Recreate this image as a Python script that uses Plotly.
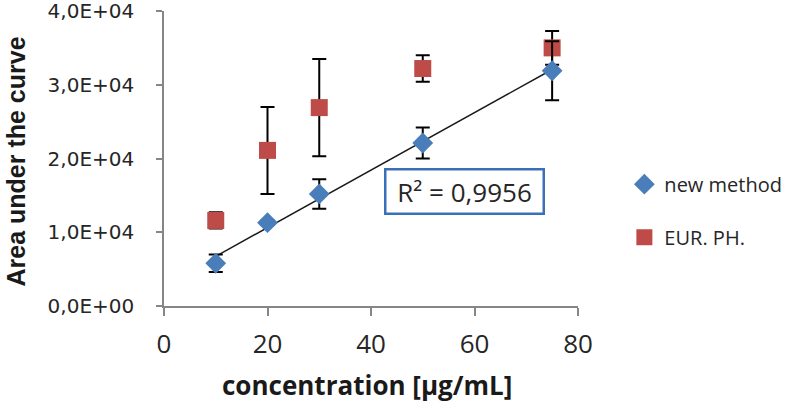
import numpy as np
import plotly.graph_objects as go

# ---- data ----
conc = [10, 20, 30, 50, 75]
new_method = [5800, 11300, 15200, 22100, 31900]
new_method_err = [1200, 300, 2000, 2100, 4000]
eur_ph = [11600, 21100, 26900, 32200, 35000]
eur_ph_err = [1100, 5900, 6600, 1800, 2300]
y_tickvals = [0, 10000, 20000, 30000, 40000]
y_ticktext = ["0,0E+00", "1,0E+04", "2,0E+04", "3,0E+04", "4,0E+04"]
x_tickvals = [0, 20, 40, 60, 80]
r2_label = "R² = 0,9956"
x_title = "concentration [µg/mL]"
y_title = "Area under the curve"

BLUE = "#4a7ebb"
RED = "#be4b48"
AXIS = "#868686"

# linear trendline of the new method
slope, intercept = np.polyfit(conc, new_method, 1)
trend_x = [min(conc), max(conc)]
trend_y = [slope * v + intercept for v in trend_x]

fig = go.Figure()

fig.add_trace(go.Scatter(
    x=trend_x, y=trend_y, mode="lines",
    line=dict(color="#1a1a1a", width=1.5),
    showlegend=False, hoverinfo="skip",
))

fig.add_trace(go.Scatter(
    x=conc, y=eur_ph, mode="markers", name="EUR. PH.",
    legendgroup="b", legendrank=2,
    marker=dict(symbol="square", size=17, color=RED),
    error_y=dict(type="data", array=eur_ph_err, color="black",
                 thickness=2, width=7),
))

fig.add_trace(go.Scatter(
    x=conc, y=new_method, mode="markers", name="new method",
    legendgroup="a", legendrank=1,
    marker=dict(symbol="diamond", size=16, color=BLUE),
    error_y=dict(type="data", array=new_method_err, color="black",
                 thickness=2, width=7),
))

fig.add_annotation(
    x=58.1, y=15550, xref="x", yref="y",
    text=r2_label, showarrow=False,
    font=dict(family="Open Sans", size=26, color="#262626"),
    bordercolor="#3a70b8", borderwidth=2.5, borderpad=3,
    bgcolor="white", width=150, height=36,
)

# axis titles
fig.add_annotation(
    x=0, y=0.5, xref="paper", yref="paper",
    xanchor="center", yanchor="middle", xshift=-149, yshift=-3,
    text=y_title, textangle=-90, showarrow=False,
    font=dict(family="Liberation Sans", size=25, color="#1a1a1a", weight="bold"),
)
fig.add_annotation(
    x=0.49, y=0, xref="paper", yref="paper",
    xanchor="center", yanchor="middle", yshift=-79,
    text=x_title, showarrow=False,
    font=dict(family="Open Sans", size=26, color="#1a1a1a", weight="bold"),
)

fig.update_layout(
    width=787, height=407,
    margin=dict(l=164, r=209, t=11, b=101, autoexpand=False),
    paper_bgcolor="white", plot_bgcolor="white",
    showlegend=True,
    legend=dict(
        x=1.112, y=0.323, xanchor="left", yanchor="middle",
        font=dict(family="Open Sans", size=20, color="#262626"),
        tracegroupgap=24, traceorder="grouped",
        bgcolor="rgba(0,0,0,0)",
    ),
)

fig.update_xaxes(
    range=[0, 80], tickvals=x_tickvals,
    showline=True, linecolor=AXIS, linewidth=1.5,
    ticks="outside", ticklen=8, tickcolor=AXIS, tickwidth=1.5,
    showgrid=False, zeroline=False, automargin=False,
    tickfont=dict(family="Open Sans", size=26, color="#262626"),
    ticklabelstandoff=6,
)

fig.update_yaxes(
    range=[0, 40000], tickvals=y_tickvals, ticktext=y_ticktext,
    showline=True, linecolor=AXIS, linewidth=1.5,
    ticks="outside", ticklen=6, tickcolor=AXIS, tickwidth=1.5,
    showgrid=False, zeroline=False, automargin=False,
    ticklabeloverflow="allow",
    tickfont=dict(family="DejaVu Sans", size=20, color="#262626"),
    ticklabelstandoff=18,
)

fig.write_html(
    "out.html",
    config={"displayModeBar": False, "responsive": False},
    post_script="document.body.style.margin='0px';document.body.style.overflow='hidden';",
)
